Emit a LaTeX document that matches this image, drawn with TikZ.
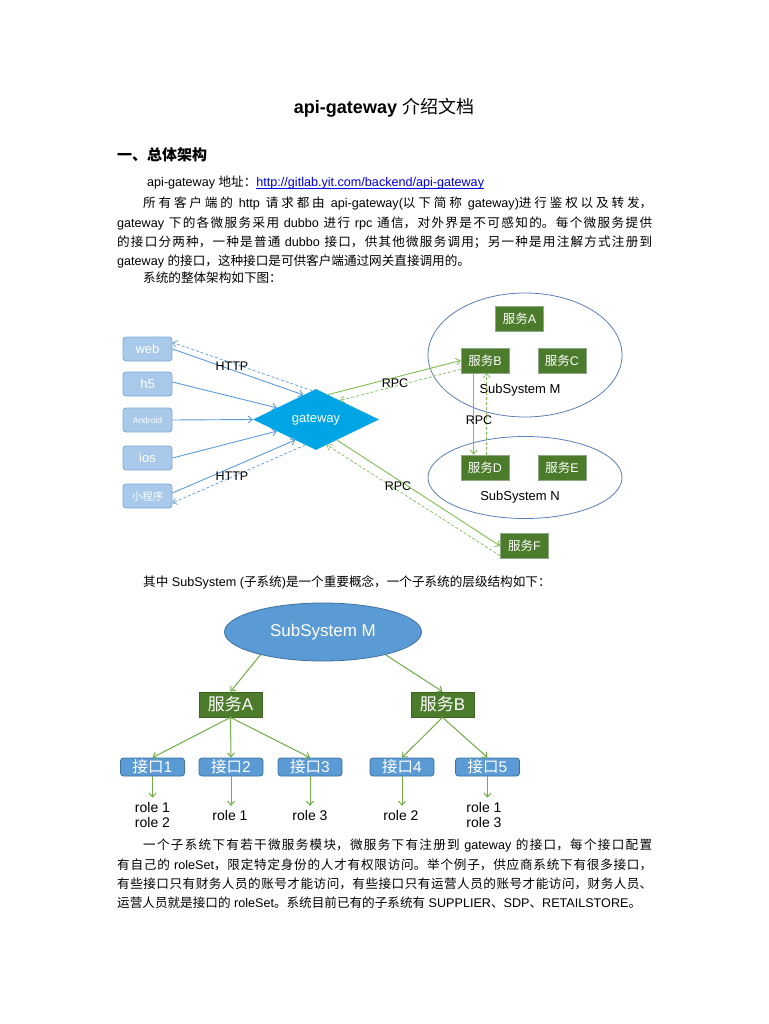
\documentclass[tikz,border=0pt]{standalone}
\usepackage{fontspec}
\setmainfont{Liberation Sans}
\newfontfamily\cjk{Noto Sans CJK SC}
\usetikzlibrary{shapes.geometric,arrows.meta,calc}
\chardef\mycjkclass=200
\newcount\mycnt
\mycnt="3000
\loop\ifnum\mycnt<"3040 \XeTeXcharclass\mycnt=\mycjkclass \advance\mycnt 1 \repeat
\mycnt="4E00
\loop\ifnum\mycnt<"A000 \XeTeXcharclass\mycnt=\mycjkclass \advance\mycnt 1 \repeat
\mycnt="FF00
\loop\ifnum\mycnt<"FFF0 \XeTeXcharclass\mycnt=\mycjkclass \advance\mycnt 1 \repeat
\XeTeXinterchartoks 0 \mycjkclass = {\begingroup\cjk}
\XeTeXinterchartoks 4095 \mycjkclass = {\begingroup\cjk}
\XeTeXinterchartoks \mycjkclass 0 = {\endgroup}
\XeTeXinterchartoks \mycjkclass 4095 = {\endgroup}
\XeTeXinterchartokenstate=1
\XeTeXlinebreaklocale "zh"
\XeTeXlinebreakskip=0pt plus 2pt
\tolerance=10000
\newsavebox\mylinkbox
\newcommand\mylink[1]{\sbox\mylinkbox{#1}\rlap{\rule[-1.7pt]{\wd\mylinkbox}{0.7pt}}\usebox\mylinkbox}
\definecolor{clientfill}{HTML}{A9C9EA}
\definecolor{clientline}{HTML}{7FA9D6}
\definecolor{bluearr}{HTML}{5F9BD8}
\definecolor{gwfill}{HTML}{00A5E5}
\definecolor{sysline}{HTML}{5A7FB5}
\definecolor{svcfill}{HTML}{4B7B2B}
\definecolor{svcline}{HTML}{8FA88A}
\definecolor{greenarr}{HTML}{7FBF52}
\definecolor{ellfill}{HTML}{5B9BD5}
\definecolor{ellline}{HTML}{41719C}
\definecolor{treegreen}{HTML}{70AD47}
\definecolor{svcdark}{HTML}{3D6322}
\definecolor{linkblue}{RGB}{0,0,230}
\begin{document}
\begin{tikzpicture}[x=1pt,y=-1pt,
  txt/.style={inner sep=0pt, font=\fontsize{12.6}{19.2}\selectfont},
  para/.style={inner sep=0pt, text width=535pt, align=justify, font=\fontsize{12.6}{19.2}\selectfont},
  client/.style={draw=clientline, fill=clientfill, rounded corners=3pt, minimum width=49pt, minimum height=24pt, inner sep=0pt, text=white, line width=0.8pt, font=\fontsize{13}{14}\selectfont},
  svc/.style={draw=svcline, fill=svcfill, minimum width=48pt, minimum height=25pt, inner sep=0pt, text=white, font=\fontsize{12.5}{14}\selectfont, line width=0.6pt},
  sys/.style={draw=sysline, ellipse, line width=0.8pt, inner sep=0pt},
  lbl/.style={inner sep=0pt, font=\fontsize{12.5}{14}\selectfont},
  barb/.style={-{Straight Barb[length=4pt,width=7pt]}},
  bluearrow/.style={draw=bluearr, line width=0.9pt, barb},
  bluedash/.style={draw=bluearr, line width=0.7pt, dash pattern=on 3pt off 2pt, barb},
  greenarrow/.style={draw=greenarr, line width=0.9pt, barb},
  greendash/.style={draw=greenarr, line width=0.7pt, dash pattern=on 3pt off 2pt, barb},
  tsvc/.style={draw=svcdark, fill=svcfill, minimum width=63pt, minimum height=25pt, inner sep=0pt, text=white, font=\fontsize{17}{19}\selectfont, line width=0.8pt},
  iface/.style={draw=ellline, fill=ellfill, rounded corners=3pt, minimum width=64pt, minimum height=18pt, inner sep=0pt, text=white, font=\fontsize{15.5}{17}\selectfont, line width=0.8pt},
  role/.style={inner sep=4.5pt, align=left, font=\fontsize{14}{15}\selectfont},
  treearrow/.style={draw=treegreen, line width=1pt, barb}
]
\useasboundingbox (0,0) rectangle (768,1024);
\fill[white] (0,0) rectangle (768,1024);

% ---------- text ----------
\node[inner sep=0pt, font=\fontsize{18}{20}\selectfont] (title) at (384,108) {{\bfseries api-gateway} 介绍文档};
\node[inner sep=0pt, anchor=west, font=\fontsize{15}{17}\selectfont\bfseries] (head) at (117,155) {一、总体架构};
\node[txt, anchor=west] (addr) at (147,183) {api-gateway 地址：{\color{linkblue}\mylink{http://gitlab.yit.com/backend/api-gateway}}};
\node[para, anchor=north west] (p1) at (117,197) {\hspace*{26pt}所有客户端的 http 请求都由 api-gateway(以下简称 gateway)进行鉴权以及转发，\linebreak gateway 下的各微服务采用 dubbo 进行 rpc 通信，对外界是不可感知的。每个微服务提供\linebreak 的接口分两种，一种是普通 dubbo 接口，供其他微服务调用；另一种是用注解方式注册到\linebreak gateway 的接口，这种接口是可供客户端通过网关直接调用的。};
\node[txt, anchor=west] (p2) at (143,278) {系统的整体架构如下图：};
\node[txt, anchor=west] (p3) at (143,582) {其中 SubSystem (子系统)是一个重要概念，一个子系统的层级结构如下：};
\node[para, anchor=north west] (p4) at (117,839) {\hspace*{26pt}一个子系统下有若干微服务模块，微服务下有注册到 gateway 的接口，每个接口配置\linebreak 有自己的 roleSet，限定特定身份的人才有权限访问。举个例子，供应商系统下有很多接口，\linebreak 有些接口只有财务人员的账号才能访问，有些接口只有运营人员的账号才能访问，财务人员、\linebreak\parfillskip=0pt 运营人员就是接口的 roleSet。系统目前已有的子系统有 SUPPLIER、SDP、RETAILSTORE。};

% ---------- diagram 1 ----------
\node[client] (web) at (147.5,349) {web};
\node[client] (h5) at (147.5,384) {h5};
\node[client, font=\fontsize{8.5}{10}\selectfont] (andr) at (147.5,420) {Android};
\node[client] (ios) at (147.5,458) {ios};
\node[client, font=\fontsize{10.5}{12}\selectfont] (mini) at (147.5,496) {小程序};
\node[diamond, fill=gwfill, minimum width=126pt, minimum height=61pt, inner sep=0pt, text=white, font=\fontsize{13}{15}\selectfont] (gw) at (316,419.5) {gateway};

\node[sys, minimum width=194pt, minimum height=124pt] (sysM) at (525,355) {};
\node[sys, minimum width=194pt, minimum height=82pt] (sysN) at (525,477.5) {};
\node[svc] (A) at (519.5,319) {服务A};
\node[svc] (B) at (485,360.5) {服务B};
\node[svc] (C) at (562,360.5) {服务C};
\node[svc] (D) at (485,467.5) {服务D};
\node[svc] (E) at (562,467.5) {服务E};
\node[svc] (F) at (524.5,546) {服务F};
\node[lbl, font=\fontsize{13}{15}\selectfont] (mlbl) at (520,390) {SubSystem M};
\node[lbl, font=\fontsize{13}{15}\selectfont] (nlbl) at (520,497) {SubSystem N};

\draw[bluearrow] (web.east) -- ($(gw.west)!0.8!(gw.north)$);
\draw[bluedash] ($(gw.west)!0.94!(gw.north)$) -- ($(web.east)+(0,-6.5)$);
\draw[bluearrow] ($(h5.east)+(0,-2)$) -- ($(gw.west)!0.38!(gw.north)$);
\draw[bluearrow] (andr.east) -- (gw.west);
\draw[bluearrow] (ios.east) -- ($(gw.west)!0.38!(gw.south)$);
\draw[bluearrow] ($(mini.east)+(0,-3)$) -- ($(gw.west)!0.67!(gw.south)$);
\draw[bluedash] ($(gw.west)!0.83!(gw.south)$) -- ($(mini.east)+(0,7)$);

\draw[greenarrow] ($(gw.north)!0.19!(gw.east)$) -- (B.west);
\draw[greendash] ($(B.south west)+(0,-4)$) -- ($(gw.north)!0.38!(gw.east)$);
\draw[greenarrow] ($(B.south west)+(13,0)$) -- ($(D.north west)+(13,0)$);
\draw[greendash] ($(D.north west)+(26,0)$) -- ($(B.south west)+(26,0)$);
\draw[greenarrow] ($(gw.south)!0.33!(gw.east)$) -- (F.west);
\draw[greendash] ($(F.south west)+(0,-3)$) -- ($(gw.south)!0.17!(gw.east)$);

\node[lbl] (http1) at (232,366) {HTTP};
\node[lbl] (http2) at (232,476) {HTTP};
\node[lbl] (rpc1) at (395,383) {RPC};
\node[lbl] (rpc2) at (479,420) {RPC};
\node[lbl] (rpc3) at (398,486) {RPC};

% ---------- diagram 2 ----------
\node[ellipse, draw=ellline, fill=ellfill, line width=0.8pt, minimum width=197pt, minimum height=58pt, inner sep=0pt, text=white, font=\fontsize{17}{19}\selectfont] (ell) at (323,632) {SubSystem M};
\node[tsvc] (tA) at (230.5,704.5) {服务A};
\node[tsvc] (tB) at (442.5,704.5) {服务B};
\node[iface] (i1) at (152.5,767) {接口1};
\node[iface] (i2) at (231,767) {接口2};
\node[iface] (i3) at (310,767) {接口3};
\node[iface] (i4) at (402,767) {接口4};
\node[iface] (i5) at (487.5,767) {接口5};
\node[role] (r1) at (152.5,815) {role 1\\role 2};
\node[role] (r2) at (230,815.7) {role 1};
\node[role] (r3) at (310,815.7) {role 3};
\node[role] (r4) at (401,815.7) {role 2};
\node[role] (r5) at (484,815) {role 1\\role 3};

\draw[treearrow] (ell.200) -- (tA.north);
\draw[treearrow] (ell.340) -- (tB.north);
\draw[treearrow] (tA.south) -- (i1.north);
\draw[treearrow] (tA.south) -- (i2.north);
\draw[treearrow] (tA.south) -- (i3.north);
\draw[treearrow] (tB.south) -- (i4.north);
\draw[treearrow] (tB.south) -- (i5.north);
\draw[treearrow] (i1.south) -- (i1.south |- r1.north);
\draw[treearrow] (i2.south) -- (i2.south |- r2.north);
\draw[treearrow] (i3.south) -- (i3.south |- r3.north);
\draw[treearrow] (i4.south) -- (i4.south |- r4.north);
\draw[treearrow] (i5.south) -- (i5.south |- r5.north);
\end{tikzpicture}
\end{document}
